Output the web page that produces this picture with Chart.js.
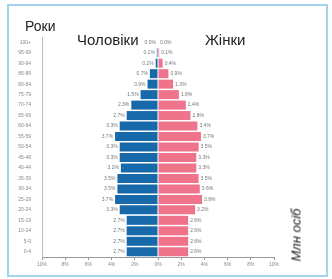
<!DOCTYPE html>
<html>
<head>
<meta charset="utf-8">
<script src="https://cdn.jsdelivr.net/npm/chart.js@4"></script>
<style>
  html, body { margin: 0; padding: 0; background: #fff; }
  #wrap { position: relative; width: 332px; height: 279px; overflow: hidden; font-family: "Liberation Sans", Arial, sans-serif; }
  #frame { position: absolute; left: 7px; top: 4px; width: 317px; height: 269px; border: 2px solid #a3d4ee; }
  canvas { position: absolute; left: 0; top: 0; }
  .lbl { position: absolute; font-size: 15px; color: #222; white-space: nowrap; }
  #unit { position: absolute; left: 296px; top: 235px; font-size: 13px; font-style: italic; color: #222;
          transform: translate(-50%, -50%) rotate(-90deg); white-space: nowrap; }
</style>
</head>
<body>
<div id="wrap">
  <div id="frame"></div>
  <canvas id="myChart" width="332" height="279"></canvas>
  <div class="lbl" style="left:25px; top:18px; font-size:14px;">Роки</div>
  <div class="lbl" style="left:77px; top:31px;">Чоловіки</div>
  <div class="lbl" style="left:205px; top:31px;">Жінки</div>
  <div id="unit">Млн осіб</div>
</div>
<script>
const ages = ['100+', '95-99', '90-94', '85-89', '80-84', '75-79', '70-74', '65-69', '60-64', '55-59',
              '50-54', '45-49', '40-44', '35-39', '30-34', '25-29', '20-24', '15-19', '10-14', '5-9', '0-4'];
const male = [0.0, 0.1, 0.2, 0.7, 0.9, 1.5, 2.3, 2.7, 3.3, 3.7, 3.3, 3.3, 3.2, 3.5, 3.5, 3.7, 3.3, 2.7, 2.7, 2.7, 2.7];
const female = [0.0, 0.1, 0.4, 0.9, 1.3, 1.8, 2.4, 2.8, 3.4, 3.7, 3.5, 3.3, 3.3, 3.5, 3.6, 3.8, 3.2, 2.6, 2.6, 2.6, 2.6];
const xTicks = [-10, -8, -6, -4, -2, 0, 2, 4, 6, 8, 10];

// value labels next to the bar ends
const barLabels = {
  id: 'barLabels',
  afterDatasetsDraw(chart) {
    const c = chart.ctx;
    c.save();
    c.font = '5px "Liberation Sans", Arial, sans-serif';
    c.fillStyle = '#777';
    c.textBaseline = 'middle';
    chart.data.datasets.forEach((ds, i) => {
      const meta = chart.getDatasetMeta(i);
      meta.data.forEach((bar, j) => {
        const v = Math.abs(ds.data[j]).toFixed(1) + '%';
        if (i === 0) {
          c.textAlign = 'right';
          c.fillText(v, bar.x - 2, bar.y);
        } else {
          c.textAlign = 'left';
          c.fillText(v, bar.x + 2, bar.y);
        }
      });
    });
    c.restore();
  }
};

const ctx = document.getElementById('myChart').getContext('2d');
const myChart = new Chart(ctx, {
  type: 'bar',
  data: {
    labels: ages,
    datasets: [{
      label: 'Чоловіки',
      data: male.map(v => -v),
      backgroundColor: '#1769aa',
      barPercentage: 0.86,
      categoryPercentage: 1
    }, {
      label: 'Жінки',
      data: female,
      backgroundColor: '#f0738c',
      barPercentage: 0.86,
      categoryPercentage: 1
    }]
  },
  options: {
    indexAxis: 'y',
    responsive: false,
    animation: false,
    layout: { padding: { left: 12, right: 58, top: 37, bottom: 8 } },
    plugins: { legend: { display: false }, tooltip: { enabled: false } },
    scales: {
      x: {
        stacked: true,
        min: -10,
        max: 10,
        afterBuildTicks: s => { s.ticks = xTicks.map(v => ({ value: v })); },
        afterFit: s => { s.height = 14; },
        grid: { display: true, drawOnChartArea: false, drawTicks: true, tickLength: 3, color: '#999' },
        border: { color: '#999' },
        ticks: {
          color: '#888',
          padding: 2,
          maxRotation: 0,
          font: { size: 5 },
          callback: v => Math.abs(v) + '%'
        }
      },
      y: {
        stacked: true,
        afterFit: s => { s.width = 30; },
        grid: { display: false },
        border: { color: '#bbb' },
        ticks: { color: '#888', padding: 3, font: { size: 5 }, autoSkip: false }
      }
    }
  },
  plugins: [barLabels]
});
</script>
</body>
</html>
